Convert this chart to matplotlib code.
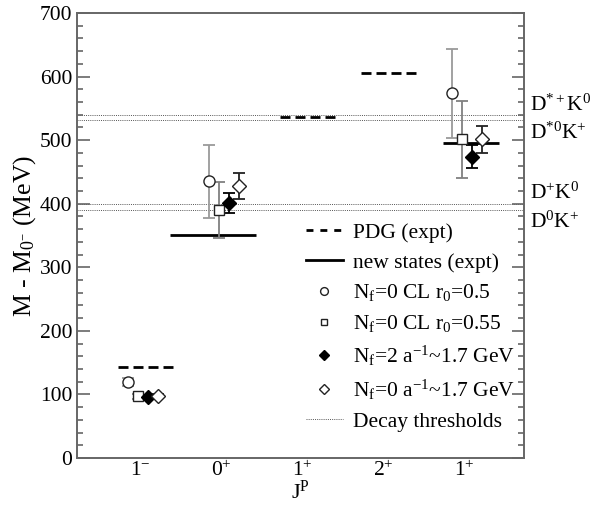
import matplotlib
matplotlib.use("Agg")
import matplotlib.pyplot as plt
import matplotlib.transforms as mtransforms
from matplotlib.lines import Line2D

plt.rcParams['font.family'] = ['Liberation Serif', 'DejaVu Serif']
plt.rcParams['mathtext.fontset'] = 'custom'
plt.rcParams['mathtext.rm'] = 'Liberation Serif'
plt.rcParams['mathtext.it'] = 'Liberation Serif:italic'
plt.rcParams['mathtext.bf'] = 'Liberation Serif:bold'

# categories
positions = [1, 2, 3, 4, 5]
tick_labels = [r'1$^{-}$', r'0$^{+}$', r'1$^{+}$', r'2$^{+}$', r'1$^{+}$']

# experiment (MeV)
pdg_x = [1, 3, 4]
pdg_val = [143, 536, 605]
new_x = [2, 5]
new_val = [351, 495]

# lattice results at 1-, 0+, 1+
lat_x = [1, 2, 5]
cl05_val = [120, 435, 574]
cl05_err = [6, 57, 70]
cl055_val = [97, 390, 501]
cl055_err = [4, 44, 61]
nf2_val = [96, 401, 474]
nf2_err = [3, 16, 18]
nf0_val = [97, 428, 501]
nf0_err = [3, 20, 21]

# decay thresholds (MeV)
thr_val = [540, 532, 399, 390]
thr_lab = [r'D$^{*+}$K$^{0}$', r'D$^{*0}$K$^{+}$', r'D$^{+}$K$^{0}$', r'D$^{0}$K$^{+}$']
thr_lab_y = [555, 511, 417, 371]

fig = plt.figure(figsize=(6.04, 5.19), dpi=100)
ax = fig.add_axes([0.1275, 0.1175, 0.74, 0.8575])

fs = 15.5
gray = '#666666'

for v in thr_val:
    ax.axhline(v, color='#555555', lw=0.7, ls=(0, (1, 1.2)), zorder=1)

dash = (0, (3.6, 1.8))
for x, v in zip(pdg_x, pdg_val):
    ax.hlines(v, x - 0.27, x + 0.42, colors='black', lw=2.0, linestyles=dash, zorder=2)
new_span = [(-0.63, 0.43), (-0.26, 0.43)]
for (x, v), (a, b) in zip(zip(new_x, new_val), new_span):
    ax.hlines(v, x + a, x + b, colors='black', lw=2.0, zorder=2)

series = [
    (cl05_val, cl05_err, -0.15, 'o', 'white', '#222222', '#9a9a9a', 8, r'N$_{\mathrm{f}}$=0 CL r$_{0}$=0.5'),
    (cl055_val, cl055_err, -0.025, 's', 'white', '#222222', '#808080', 7, r'N$_{\mathrm{f}}$=0 CL r$_{0}$=0.55'),
    (nf2_val, nf2_err, 0.10, 'D', 'black', 'black', 'black', 7, r'N$_{\mathrm{f}}$=2 a$^{-1}$~1.7 GeV'),
    (nf0_val, nf0_err, 0.22, 'D', 'white', '#222222', '#222222', 7, r'N$_{\mathrm{f}}$=0 a$^{-1}$~1.7 GeV'),
]
handles = [Line2D([], [], color='black', lw=2.0, ls=(0, (2.5, 2.5))),
           Line2D([], [], color='black', lw=2.0)]
labels = ['PDG (expt)', 'new states (expt)']
for vals, errs, off, mk, fc, ec, errc, ms, lab in series:
    xs = [x + off for x in lat_x]
    ax.errorbar(xs, vals, yerr=errs, fmt='none', ecolor=errc, elinewidth=1.3,
                capsize=4.5, capthick=1.3, zorder=3)
    ax.plot(xs, vals, ls='none', marker=mk, ms=ms, mfc=fc, mec=ec, mew=1.0, zorder=4)
    handles.append(Line2D([], [], ls='none', marker=mk, ms=ms * 0.7, mfc=fc, mec=ec, mew=1.0))
    labels.append(lab)
handles.append(Line2D([], [], color='#555555', lw=0.7, ls=(0, (1, 1.2))))
labels.append('Decay thresholds')

ax.legend(handles, labels, loc='lower right', bbox_to_anchor=(1.0, 0.04), frameon=False,
          fontsize=fs, handlelength=1.7, handletextpad=0.5, labelspacing=0.45,
          borderaxespad=0.0)

trans = mtransforms.blended_transform_factory(ax.transAxes, ax.transData)
for lab, y in zip(thr_lab, thr_lab_y):
    ax.text(1.013, y, lab, transform=trans, fontsize=fs, va='center', ha='left')

ax.set_xlim(0.222, 5.74)
ax.set_ylim(0, 700)
ax.set_xticks(positions)
ax.set_xticklabels(tick_labels, fontsize=fs)
ax.set_yticks(range(0, 701, 100))
ax.set_yticks(range(0, 701, 20), minor=True)
ax.tick_params(axis='y', which='both', direction='in', left=True, right=True,
               colors=gray, labelcolor='black', labelsize=fs)
ax.tick_params(axis='y', which='major', length=9, width=1.2)
ax.tick_params(axis='y', which='minor', length=4.5, width=1.2)
ax.tick_params(axis='x', length=0, pad=2)
for s in ax.spines.values():
    s.set_color(gray)
    s.set_linewidth(1.4)

ax.set_xlabel(r'J$^{\mathrm{P}}$', fontsize=16, labelpad=0)
ax.set_ylabel(r'M - M$_{0^{-}}$ (MeV)', fontsize=18.5, labelpad=1)

fig.savefig('out.png', dpi=100)
